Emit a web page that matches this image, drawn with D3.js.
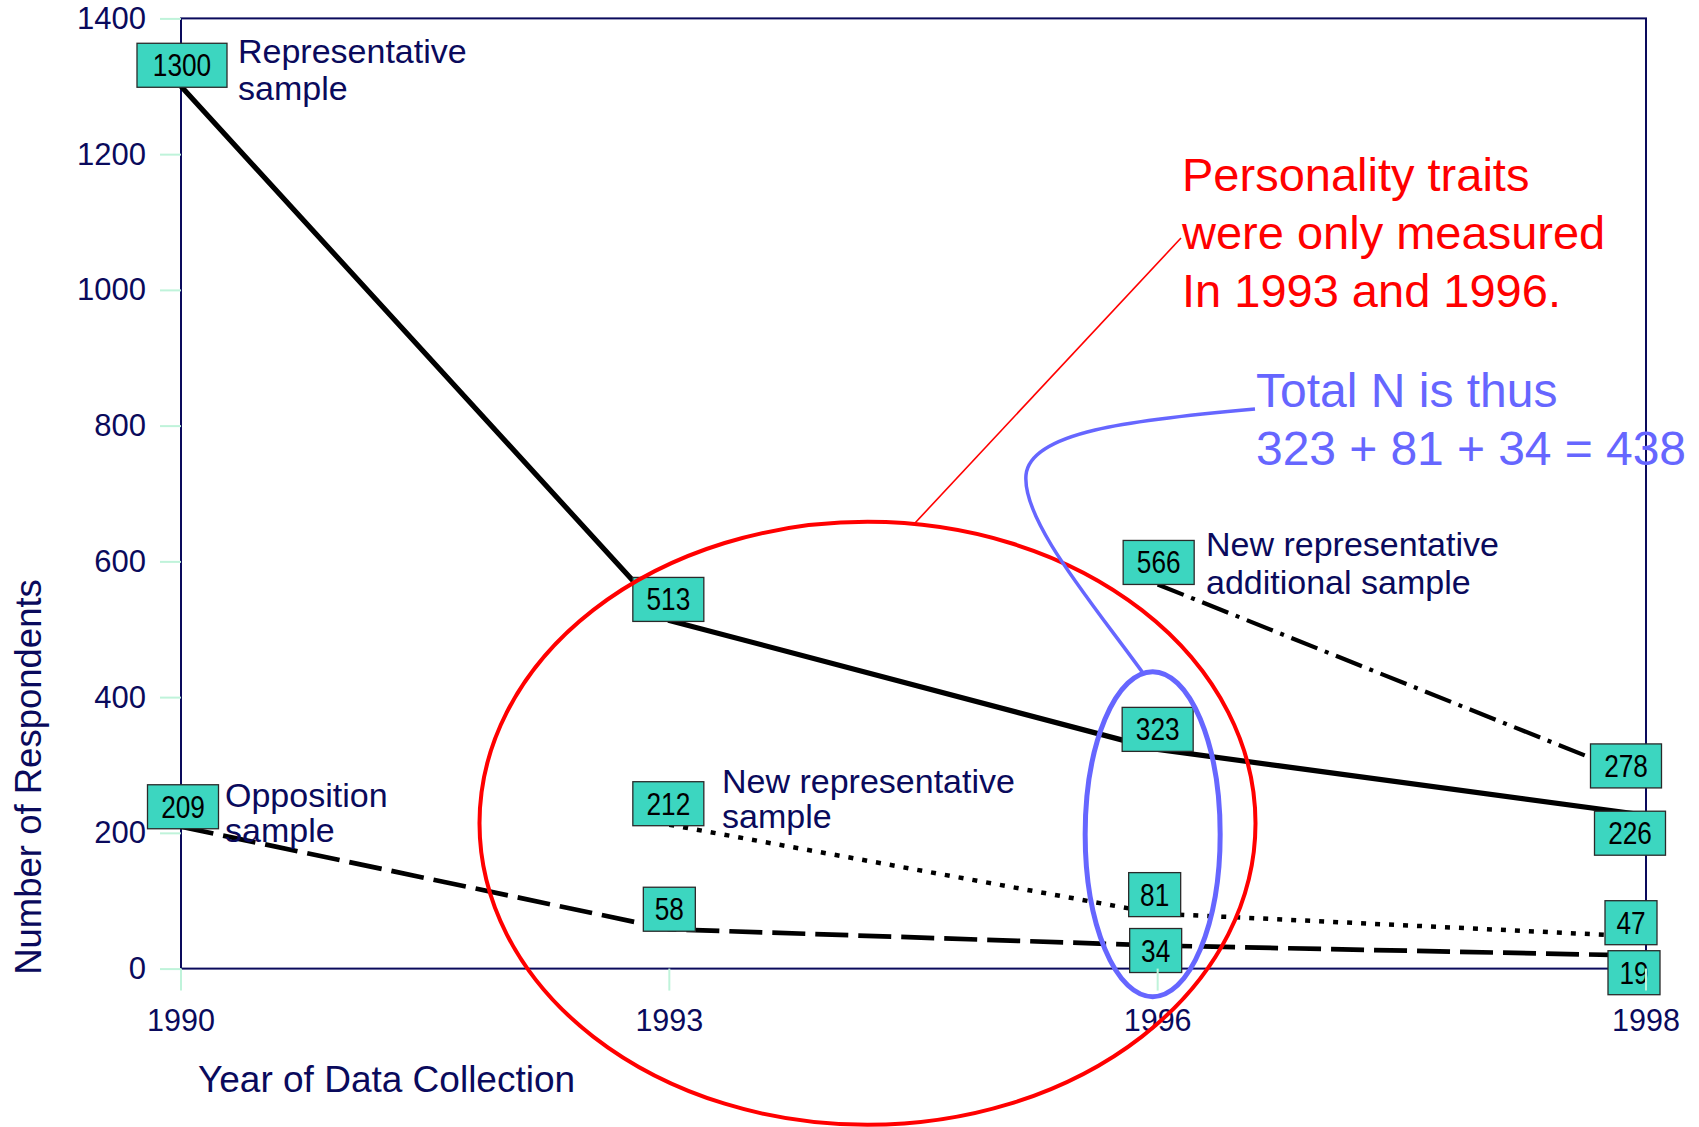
<!DOCTYPE html>
<html><head><meta charset="utf-8">
<script src="https://cdn.jsdelivr.net/npm/d3@7"></script>
<style>html,body{margin:0;padding:0;background:#fff;} svg{display:block}</style>
</head><body><svg id="chart" width="1699" height="1127"></svg>
<script>
// ---------- data ----------
const years = ["1990", "1993", "1996", "1998"];
const yTicks = [0, 200, 400, 600, 800, 1000, 1200, 1400];
const representative = [1300, 513, 323, 226];
const opposition = [209, 58, 34, 19];
const newRepresentative = [null, 212, 81, 47];
const newAdditional = [null, null, 566, 278];
const seriesLabels = [["Representative", "sample"], ["Opposition", "sample"], ["New representative", "sample"], ["New representative", "additional sample"]];
const redNote = ["Personality traits", "were only measured", "In 1993 and 1996."];
const blueNote = ["Total N is thus", "323 + 81 + 34 = 438"];
const xTitle = "Year of Data Collection";
const yTitle = "Number of Respondents";

// ---------- layout / style ----------
const W = 1699, H = 1127;
const plot = {left: 181, right: 1646, top: 18.4, bottom: 968.6};
const navy = "#0a0a5c", mint = "#bff3da", teal = "#3cd6c0";
const FONT = "'Liberation Sans', Arial, sans-serif";

const svg = d3.select("#chart");
const x = d3.scalePoint().domain(years).range([plot.left, plot.right]);
const y = d3.scaleLinear().domain([0, 1400]).range([plot.bottom, plot.top]);

const series = [
  {key: "rep", values: representative, dash: null, width: 5.2},
  {key: "opp", values: opposition, dash: "33,10", width: 4.7},
  {key: "newrep", values: newRepresentative, dash: "5,9", width: 4.5},
  {key: "add", values: newAdditional, dash: "28,8,4,8", width: 4.2}
];
// box centre offset from its point
const labelOffsets = {
  rep: [[1, -21], [-1, -21], [0, -20], [-16, 18]],
  opp: [[2, -20], [0, -20], [-2, 5], [-12, 17]],
  newrep: [null, [-1, -21], [-3, -19], [-15, -14]],
  add: [null, null, [1, -22], [-20, -14]]
};
// annotation text placement for each series
const seriesLabelPos = [
  {x: 238, y: [63, 100]},
  {x: 225, y: [807, 842]},
  {x: 722, y: [793, 828]},
  {x: 1206, y: [556, 594]}
];

// ---------- frame ----------
svg.append("rect").attr("x", plot.left).attr("y", plot.top)
  .attr("width", plot.right - plot.left).attr("height", plot.bottom - plot.top)
  .attr("fill", "none").attr("stroke", navy).attr("stroke-width", 2);

// y axis ticks + labels
const yAxis = svg.append("g").attr("transform", `translate(${plot.left},0)`)
  .call(d3.axisLeft(y).tickValues(yTicks).tickSize(21).tickPadding(14).tickFormat(d3.format("d")));
yAxis.select(".domain").remove();
yAxis.selectAll(".tick line").attr("stroke", mint).attr("stroke-width", 2);
yAxis.selectAll(".tick text").attr("fill", navy).attr("font-family", FONT).attr("font-size", 31);

// x tick labels
svg.append("g").selectAll("text").data(years).join("text")
  .attr("x", d => x(d)).attr("y", 1031).attr("text-anchor", "middle")
  .attr("fill", navy).attr("font-family", FONT).attr("font-size", 30.5).text(d => d);

// axis titles
svg.append("text").attr("x", 198).attr("y", 1092).attr("fill", navy)
  .attr("font-family", FONT).attr("font-size", 37).text(xTitle);
svg.append("text").attr("transform", "translate(41,777) rotate(-90)").attr("text-anchor", "middle")
  .attr("fill", navy).attr("font-family", FONT).attr("font-size", 36.5).text(yTitle);

// ---------- lines ----------
const line = d3.line().defined(d => d.v != null).x(d => x(d.year)).y(d => y(d.v));
series.forEach(s => {
  const pts = years.map((yr, i) => ({year: yr, v: s.values[i]}));
  svg.append("path").datum(pts).attr("d", line).attr("fill", "none")
    .attr("stroke", "#000").attr("stroke-width", s.width)
    .attr("stroke-dasharray", s.dash).attr("stroke-linejoin", "round");
});

// ---------- data label boxes ----------
const boxH = 44;
series.forEach(s => {
  s.values.forEach((v, i) => {
    if (v == null) return;
    const off = labelOffsets[s.key][i];
    const cx = x(years[i]) + off[0], cy = y(v) + off[1];
    const txt = String(v);
    const bw = 14 + 19 * txt.length;
    const g = svg.append("g");
    g.append("rect").attr("x", cx - bw / 2).attr("y", cy - boxH / 2)
      .attr("width", bw).attr("height", boxH).attr("fill", teal)
      .attr("stroke", "#2a2a2a").attr("stroke-width", 1.3);
    g.append("text").attr("transform", `translate(${cx},${cy + 11}) scale(0.86,1)`)
      .attr("text-anchor", "middle").attr("font-family", FONT).attr("font-size", 30.5)
      .attr("fill", "#000").text(txt);
  });
});

// x ticks (drawn over boxes)
svg.append("g").selectAll("line").data(years).join("line")
  .attr("x1", d => x(d)).attr("x2", d => x(d)).attr("y1", plot.bottom).attr("y2", plot.bottom + 22)
  .attr("stroke", mint).attr("stroke-width", 2);

// ---------- series annotations ----------
seriesLabels.forEach((lines, k) => {
  const p = seriesLabelPos[k];
  lines.forEach((t, j) => {
    svg.append("text").attr("x", p.x).attr("y", p.y[j]).attr("fill", navy)
      .attr("font-family", FONT).attr("font-size", 34).text(t);
  });
});

// ---------- red note ----------
const x93 = x("1993"), x96 = x("1996");
svg.append("ellipse").attr("cx", (x93 + x96) / 2 - 46).attr("cy", y(214))
  .attr("rx", 388).attr("ry", 301.5).attr("fill", "none").attr("stroke", "#ff0000").attr("stroke-width", 4);
svg.append("line").attr("x1", 915).attr("y1", 523).attr("x2", 1181).attr("y2", 238)
  .attr("stroke", "#ff0000").attr("stroke-width", 1.6);
redNote.forEach((t, j) => {
  svg.append("text").attr("x", 1182).attr("y", 191 + j * 57.8).attr("fill", "#ff0000")
    .attr("font-family", FONT).attr("font-size", 47).text(t);
});

// ---------- blue note ----------
const blue = "#6666ff";
svg.append("ellipse").attr("cx", x96 - 5).attr("cy", y(198))
  .attr("rx", 67.5).attr("ry", 162.5).attr("fill", "none").attr("stroke", blue).attr("stroke-width", 5);
svg.append("path")
  .attr("d", "M1255,409 C1130,420 1030,432 1026,475 C1022,520 1090,600 1143,673")
  .attr("fill", "none").attr("stroke", blue).attr("stroke-width", 3.5);
svg.append("text").attr("x", 1256).attr("y", 407).attr("fill", blue)
  .attr("font-family", FONT).attr("font-size", 48).text(blueNote[0]);
svg.append("text").attr("x", 1256).attr("y", 465).attr("fill", blue)
  .attr("font-family", FONT).attr("font-size", 48)
  .attr("textLength", 430).attr("lengthAdjust", "spacing").text(blueNote[1]);
</script></body></html>
